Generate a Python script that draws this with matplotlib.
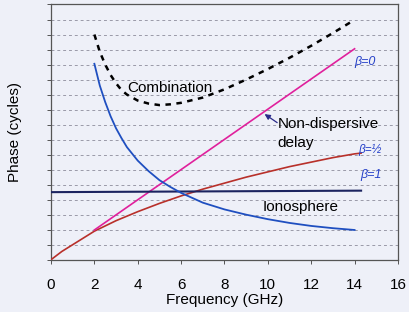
import matplotlib.pyplot as plt

plt.rcParams['font.family'] = ['Liberation Sans', 'DejaVu Sans']

# frequency (GHz) and phase (cycles)
freq_red = [0, 0.5, 1, 2, 3, 4, 5, 6, 7, 8, 9, 10, 11, 12, 13, 14, 14.3]
phase_red = [0, 0.55, 1.0, 1.9, 2.6, 3.2, 3.75, 4.25, 4.7, 5.1, 5.5, 5.85, 6.2, 6.5, 6.8, 7.05, 7.1]

freq_mag = [2, 14]
phase_mag = [1.98, 14.05]

freq_flat = [0, 14.3]
phase_flat = [4.5, 4.6]

freq_ion = [2, 2.25, 2.5, 2.75, 3, 3.25, 3.5, 4, 4.5, 5, 5.5, 6, 7, 8, 9, 10, 11, 12, 13, 14]
phase_ion = [13.05, 11.6, 10.5, 9.55, 8.75, 8.1, 7.5, 6.6, 5.9, 5.3, 4.85, 4.45, 3.8, 3.35,
             3.0, 2.7, 2.45, 2.25, 2.1, 1.98]

freq_comb = [2, 2.25, 2.5, 2.75, 3, 3.25, 3.5, 4, 4.5, 5, 5.5, 6, 7, 8, 9, 10, 11, 12, 13, 14]
phase_comb = [15.0, 13.85, 13.0, 12.3, 11.75, 11.3, 11.0, 10.6, 10.4, 10.3, 10.35, 10.45, 10.8,
              11.35, 12.0, 12.7, 13.45, 14.25, 15.1, 15.98]

xticks = [0, 2, 4, 6, 8, 10, 12, 14, 16]

bg = '#eef0f8'
fig = plt.figure(figsize=(4.09, 3.12), dpi=100, facecolor=bg)
ax = fig.add_axes([0.1247, 0.1676, 0.8483, 0.818], facecolor=bg)

for y in range(1, 17):
    ax.axhline(y, color='#9a9aa8', lw=0.7, ls=(0, (3, 3)), zorder=1)

ax.plot(freq_red, phase_red, color='#b8302a', lw=1.2, zorder=3)
ax.plot(freq_mag, phase_mag, color='#e0209c', lw=1.2, zorder=3)
ax.plot(freq_flat, phase_flat, color='#1c2460', lw=1.5, zorder=3)
ax.plot(freq_ion, phase_ion, color='#1f4fc0', lw=1.3, zorder=3)
ax.plot(freq_comb, phase_comb, color='black', lw=1.8, ls=(0, (2.2, 2.2)), zorder=3)

ax.text(3.5, 11.45, 'Combination', fontsize=11, va='center', ha='left')
ax.text(10.46, 9.05, 'Non-dispersive', fontsize=11, va='center', ha='left')
ax.text(10.46, 7.8, 'delay', fontsize=11, va='center', ha='left')
ax.text(9.75, 3.53, 'Ionosphere', fontsize=11, va='center', ha='left')
ax.annotate('', xy=(9.85, 9.7), xytext=(10.43, 9.13),
            arrowprops=dict(arrowstyle='-|>', color='#2a2a8a', lw=0.9,
                            mutation_scale=8, shrinkA=0, shrinkB=0))

hand = dict(color='#2540c8', fontsize=9, fontstyle='italic', va='center', ha='left')
ax.text(14.0, 13.15, 'β=0', **hand)
ax.text(14.15, 7.3, 'β=½', color='#2540c8', fontsize=8.5, fontstyle='italic',
        va='center', ha='left')
ax.text(14.25, 5.65, 'β=1', **hand)

ax.set_xlim(0, 16)
ax.set_ylim(0, 17)
ax.set_xticks(xticks)
ax.set_xticklabels([str(t) for t in xticks])
ax.set_yticks(range(0, 18))
ax.set_yticklabels([])
ax.tick_params(axis='both', length=3, width=0.7, color='#555555', labelsize=11, pad=10)
for s in ax.spines.values():
    s.set_color('#555555')
    s.set_linewidth(0.9)

ax.set_xlabel('Frequency (GHz)', fontsize=11, labelpad=1)
ax.set_ylabel('Phase (cycles)', fontsize=11, labelpad=8)

fig.savefig('out.png', dpi=100, facecolor=bg)
